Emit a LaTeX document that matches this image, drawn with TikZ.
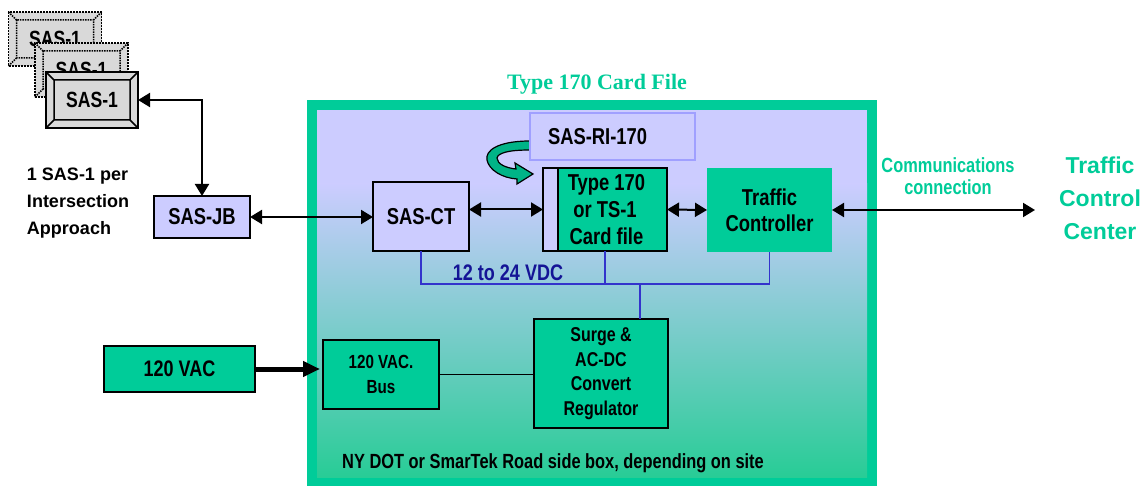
\documentclass[tikz,border=0pt]{standalone}
\usepackage{fontspec}
\setmainfont{Liberation Sans}[FakeStretch=0.8]
\newfontfamily\widesans{Liberation Sans}
\newfontfamily\titleserif{Liberation Serif}
\usetikzlibrary{arrows.meta,calc}

\definecolor{grn}{RGB}{0,204,153}
\definecolor{grnlight}{RGB}{40,204,150}
\definecolor{lav}{RGB}{204,204,255}
\definecolor{arrowgrn}{RGB}{0,180,135}
\definecolor{busblue}{RGB}{51,51,204}
\definecolor{vdcblue}{RGB}{20,20,150}
\definecolor{sasgray}{RGB}{217,217,217}
\definecolor{riedge}{RGB}{160,160,255}

\newcommand\bsf[2]{\fontsize{#1}{#2}\selectfont\bfseries}
% bevelled frame: inner rectangle plus the four corner mitres
\newcommand\bevel[2]{%
  \draw[#2] ($(#1.north west)+(8,8)$) rectangle ($(#1.south east)+(-8,-8)$)
    (#1.north west) -- ++(8,8) (#1.north east) -- ++(-8,8)
    (#1.south west) -- ++(8,-8) (#1.south east) -- ++(-8,-8);}

\begin{document}
\begin{tikzpicture}[x=1pt,y=-1pt,
  every node/.style={inner sep=0pt,outer sep=0pt},
  lavbox/.style={draw=black,line width=1.5pt,fill=lav,align=center,font=\bsf{23}{27}},
  grnbox/.style={draw=black,line width=1.5pt,fill=grn,align=center,font=\bsf{20}{24.5}},
  sasbox/.style={fill=sasgray,draw=black,line width=2pt,minimum width=92pt,minimum height=56pt,font=\bsf{22}{25}},
  ghost/.style={sasbox,densely dotted,line width=1.5pt,minimum width=93pt,minimum height=54pt},
  link/.style={line width=2pt},
  twoheads/.style={{Triangle[length=12pt,width=14pt]}-{Triangle[length=12pt,width=14pt]}},
  bus/.style={draw=busblue,line width=1.5pt},
]
\useasboundingbox (0,0) rectangle (1143,486);

% roadside cabinet: green frame with shaded interior
\fill[grn] (307,100) rectangle (877,486);
\fill[lav] (317,110) rectangle (867,185);
\shade[top color=lav,bottom color=grnlight] (317,184) rectangle (867,477);

\node[anchor=base,text=grn,font=\titleserif\fontsize{22}{26}\selectfont\bfseries] (title) at (597,90) {Type 170 Card File};

% stacked SAS-1 sensors
\node[ghost] (sasA) at (55,39) {SAS-1};
\bevel{sasA}{densely dotted,line width=1.5pt}
\node[ghost] (sasB) at (81.5,70) {SAS-1};
\bevel{sasB}{densely dotted,line width=1.5pt}
\node[sasbox] (sas1) at (92,100) {SAS-1};
\bevel{sas1}{line width=1.5pt}

\node[align=left,anchor=west,font=\widesans\fontsize{18}{27}\selectfont\bfseries] (note) at (27,203.5) {1 SAS-1 per\\Intersection\\Approach};

\node[lavbox,minimum width=96pt,minimum height=42pt] (sasjb) at (202,217) {SAS-JB};
\node[lavbox,line width=2pt,minimum width=96pt,minimum height=69pt] (sasct) at (421,216.5) {SAS-CT};

% SAS-RI-170 with its curled arrow
\path[fill=arrowgrn,draw=black,line width=1.2pt]
  (530,141) .. controls (497,141) and (485,151) .. (487,160)
  .. controls (489,170) and (502,178) .. (517,179)
  -- (517,184) -- (533,174) -- (515,163) -- (516,169)
  .. controls (506,168) and (497,164) .. (497,158)
  .. controls (498,153) and (508,150) .. (530,150) -- cycle;
\node[fill=lav,draw=riedge,line width=1.5pt,minimum height=47pt,inner xsep=18pt,text width=129pt,align=left,font=\bsf{23}{27}] (ri) at (612.5,136.5) {SAS-RI-170};

\node[draw=black,line width=2.5pt,fill=grn,minimum width=124pt,minimum height=83pt,align=center,font=\bsf{23}{27},
  path picture={\fill[lav] (path picture bounding box.north west) rectangle ([xshift=15pt]path picture bounding box.south west);
    \draw[line width=1.5pt] ([xshift=15pt]path picture bounding box.north west) -- ([xshift=15pt]path picture bounding box.south west);}]
  (t170) at (605,209.5) {\hspace*{3pt}Type 170\\or TS-1\\\hspace*{3pt}Card file};

\node[fill=grn,minimum width=125pt,minimum height=84pt,align=center,font=\bsf{23}{26}] (tc) at (769.5,210) {Traffic\\Controller};

\node[grnbox,minimum width=134pt,minimum height=109pt] (surge) at (601,373.5) {Surge \&\\AC-DC\\Convert\\Regulator};
\node[grnbox,minimum width=116pt,minimum height=69pt,font=\bsf{19}{25}] (bus) at (381,374.5) {120 VAC.\\Bus};
\node[grnbox,minimum width=151pt,minimum height=46pt,font=\bsf{22.5}{25}] (vac) at (179.5,369) {120 VAC};

\node[anchor=base,font=\bsf{20.5}{24}] (site) at (553,468) {NY DOT or SmarTek Road side box, depending on site};

% DC supply bus
\coordinate (busy) at (0,284);
\draw[bus] (sasct.south) |- (tc.south |- busy) -- (tc.south);
\draw[bus] (t170.south) -- (t170.south |- busy);
\draw[bus] ([xshift=39pt]surge.north) -- ([xshift=39pt]surge.north |- busy);
\node[anchor=base,text=vdcblue,font=\bsf{22.5}{25}] (vdc) at (508,281) {12 to 24 VDC};

% signal links
\draw[link,twoheads] (sas1.east) -| (sasjb.north);
\draw[link,twoheads] (sasjb.east) -- (sasct.west |- sasjb.east);
\draw[link,twoheads] (sasct.east |- t170.west) -- (t170.west);
\draw[link,twoheads] (t170.east) -- (tc.west);
\coordinate (tccend) at (1035,210);
\draw[link,twoheads] (tc.east) -- (tccend);

% power
\draw[line width=5pt,-{Triangle[length=17pt,width=15pt]}] (vac.east) -- ([xshift=-3pt]bus.west |- vac.east);
\draw[line width=1.5pt] (bus.east) -- (surge.west |- bus.east);

% external side
\node[align=center,text=grn,font=\bsf{20.5}{22.5}] (comm) at (948,176) {Communications\\connection};
\node[align=center,text=grn,font=\widesans\fontsize{23}{33}\selectfont\bfseries] (tcc) at (1100,198) {Traffic\\Control\\Center};
\end{tikzpicture}
\end{document}
